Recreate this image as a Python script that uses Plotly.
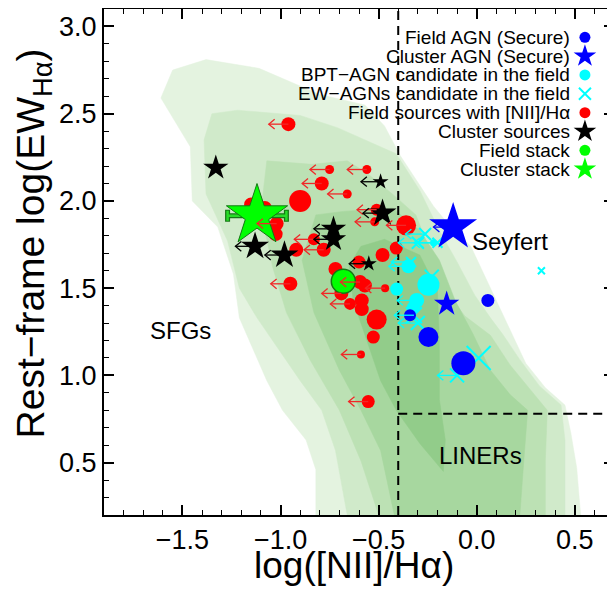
import plotly.graph_objects as go

# ---------------- data ----------------
# Field sources with [NII]/Halpha (red)
red_x = [-0.96, -0.75, -0.56, -0.79, -0.66, -0.90, -1.15, -1.08, -1.02, -1.025,
         -0.92, -0.78, -0.83, -0.51, -0.52, -0.36, -0.41, -0.48, -0.60, -0.72,
         -0.95, -0.595, -0.57, -0.467, -0.69, -0.646, -0.586, -0.586, -0.51, -0.527,
         -0.59, -0.553]
red_y = [2.44, 2.18, 2.18, 2.10, 2.04, 2.00, 1.98, 1.96, 1.87, 1.81,
         1.72, 1.72, 1.78, 1.95, 1.88, 1.86, 1.73, 1.69, 1.65, 1.61,
         1.525, 1.535, 1.515, 1.50, 1.47, 1.41, 1.43, 1.38, 1.32, 1.22,
         1.12, 0.85]
red_size = [14, 9, 9, 14, 9, 22, 14, 14, 14, 14,
            14, 14, 12, 12, 9, 20, 13, 14, 13, 14,
            14, 14, 14, 8, 14, 12, 14, 14, 20, 13,
            8, 13]
red_lim = [1, 1, 1, 1, 1, 0, 0, 0, 1, 0,
           0, 1, 1, 1, 1, 1, 0, 0, 0, 0,
           1, 1, 0, 1, 1, 1, 0, 0, 0, 0,
           1, 1]

# Cluster sources (black stars)
blk_x = [-1.33, -0.49, -1.13, -0.98, -0.73, -0.73, -0.48, -0.55]
blk_y = [2.19, 2.11, 1.74, 1.69, 1.84, 1.78, 1.93, 1.64]
blk_size = [19, 12, 21, 21, 19, 19, 21, 12]
blk_lim = [0, 1, 1, 1, 1, 1, 1, 1]

# Field AGN (secure) - blue circles
bc_x = [0.057, -0.34, -0.246, -0.068]
bc_y = [1.43, 1.345, 1.22, 1.07]
bc_size = [13, 12, 20, 24]

# Cluster AGN (secure) - blue stars
bs_x = [-0.12, -0.153]
bs_y = [1.85, 1.41]
bs_size = [36, 19]
bs_lim = [1, 0]

# BPT-AGN candidates in the field - cyan circles
cc_x = [-0.348, -0.246, -0.408, -0.306, -0.323, -0.22]
cc_y = [1.625, 1.52, 1.495, 1.43, 1.39, 1.76]
cc_size = [14, 22, 13, 15, 13, 7]
cc_lim = [1, 0, 0, 1, 0, 1]

# EW-AGN candidates in the field - cyan crosses
cx_x = [-0.263, -0.30, -0.20, -0.335, -0.229, -0.32, -0.30, 0.01, -0.10, 0.33]
cx_y = [1.81, 1.76, 1.76, 1.65, 1.565, 1.345, 1.30, 1.10, 1.00, 1.60]
cx_size = [12, 12, 10, 10, 14, 16, 14, 24, 14, 7]
cx_lim = [1, 1, 1, 1, 0, 1, 1, 0, 1, 0]

# Stacks
fstack_x, fstack_y = [-0.68], [1.54]
cstack_x, cstack_y, cstack_xerr = [-1.12], [1.915], [0.15]

# Classification dividers
NII_DIV = -0.4
EW_DIV = 0.78
X_RANGE = [-1.9, 0.7]
Y_RANGE = [0.2, 3.1]

# Density contours of the comparison sample (outer -> inner)
cont1_x = [-0.82, -0.82, -0.87, -0.99, -1.07, -1.21, -1.24, -1.32, -1.45, -1.46, -1.61, -1.55,
           -1.38, -1.11, -0.80, -0.57, -0.47, -0.39, -0.22, -0.14, -0.03, 0.02, 0.10, 0.18,
           0.25, 0.35, 0.45, 0.48, 0.51, 0.53]
cont1_y = [0.20, 0.46, 0.63, 0.80, 0.97, 1.33, 1.58, 1.85, 2.00, 2.31, 2.59, 2.75,
           2.81, 2.76, 2.61, 2.55, 2.43, 2.26, 1.97, 1.86, 1.74, 1.62, 1.43, 1.24,
           1.07, 0.93, 0.83, 0.67, 0.47, 0.20]
cont2_x = [-0.66, -0.72, -0.79, -0.90, -1.12, -1.21, -1.27, -1.38, -1.39, -1.35, -1.22, -0.90,
           -0.71, -0.41, -0.29, -0.19, -0.10, -0.01, 0.07, 0.13, 0.22, 0.32, 0.43, 0.45, 0.45]
cont2_y = [0.20, 0.57, 0.80, 0.97, 1.33, 1.50, 1.77, 2.04, 2.35, 2.50, 2.52, 2.49,
           2.42, 2.27, 2.06, 1.83, 1.65, 1.46, 1.33, 1.24, 1.09, 0.94, 0.83, 0.63, 0.20]
cont3_x = [-0.50, -0.59, -0.70, -0.85, -0.97, -1.04, -1.10, -1.07, -0.84, -0.66, -0.56, -0.43,
           -0.31, -0.24, -0.16, -0.06, 0.07, 0.17, 0.27, 0.36, 0.35, 0.35]
cont3_y = [0.20, 0.51, 0.80, 1.09, 1.36, 1.62, 1.94, 2.23, 2.21, 2.23, 2.16, 2.04,
           1.92, 1.72, 1.49, 1.34, 1.23, 1.06, 0.92, 0.80, 0.51, 0.20]
cont4_x = [-0.42, -0.49, -0.59, -0.70, -0.83, -0.89, -0.82, -0.68, -0.43, -0.29, -0.19, -0.11,
           -0.02, 0.07, 0.17, 0.26, 0.24, 0.22]
cont4_y = [0.20, 0.57, 0.80, 1.03, 1.36, 1.66, 1.92, 1.94, 1.96, 1.83, 1.66, 1.43,
           1.24, 1.03, 0.89, 0.80, 0.51, 0.20]
cont5_x = [-0.17, -0.29, -0.41, -0.49, -0.56, -0.63, -0.65, -0.59, -0.47, -0.29, -0.20, -0.19,
           -0.19, -0.16]
cont5_y = [0.45, 0.61, 0.80, 0.97, 1.20, 1.43, 1.63, 1.74, 1.78, 1.69, 1.49, 1.20,
           0.86, 0.63]

# Region labels
region_text = ["SFGs", "Seyfert", "LINERs"]
region_x = [-1.51, 0.17, 0.02]
region_y = [1.26, 1.77, 0.54]

# Axis titles
x_title = "log([NII]/Hα)"
y_title = "Rest−frame log(EW<sub>Hα</sub>)"

# Legend entries
legend_labels = ["Field AGN (Secure)", "Cluster AGN (Secure)", "BPT−AGN candidate in the field",
                 "EW−AGNs candidate in the field", "Field sources with [NII]/Hα",
                 "Cluster sources", "Field stack", "Cluster stack"]

# ---------------- styles ----------------
FONT = "Liberation Sans, Arial, Helvetica, sans-serif"
RED = "rgb(255,0,0)"
BLUE = "rgb(0,0,255)"
CYAN = "rgb(0,255,255)"
GREEN = "rgb(0,255,0)"
DKGREEN = "rgb(20,120,20)"
CONT_COLORS = ["#e4f3e0", "#d0eaca", "#bce1b4", "#a7d79f", "#92cc8a"]
ARROW_LEN = 0.10
HEAD_DX = 0.03
HEAD_DY = 0.028
NOLINE = dict(width=0)

fig = go.Figure()

# contours
for cx, cy, col in zip([cont1_x, cont2_x, cont3_x, cont4_x, cont5_x],
                       [cont1_y, cont2_y, cont3_y, cont4_y, cont5_y], CONT_COLORS):
    fig.add_trace(go.Scatter(x=cx + [cx[0]], y=cy + [cy[0]], mode="lines", fill="toself",
                             fillcolor=col, line=dict(width=0.5, color=col),
                             hoverinfo="skip", showlegend=False))

# dividers
fig.add_trace(go.Scatter(x=[NII_DIV, NII_DIV], y=Y_RANGE, mode="lines",
                         line=dict(color="black", width=2, dash="9px,6px"), showlegend=False))
fig.add_trace(go.Scatter(x=[NII_DIV, X_RANGE[1]], y=[EW_DIV, EW_DIV], mode="lines",
                         line=dict(color="black", width=2, dash="9px,6px"), showlegend=False))

# markers
fig.add_trace(go.Scatter(x=red_x, y=red_y, mode="markers",
                         marker=dict(symbol="circle", size=red_size, color=RED, opacity=1,
                                     line=NOLINE), showlegend=False))
fig.add_trace(go.Scatter(x=blk_x, y=blk_y, mode="markers",
                         marker=dict(symbol="star", size=blk_size, color="black", opacity=1,
                                     line=NOLINE), showlegend=False))
fig.add_trace(go.Scatter(x=cc_x, y=cc_y, mode="markers",
                         marker=dict(symbol="circle", size=cc_size, color=CYAN, opacity=1,
                                     line=NOLINE), showlegend=False))
fig.add_trace(go.Scatter(x=cx_x, y=cx_y, mode="markers",
                         marker=dict(symbol="x-thin", size=cx_size, color=CYAN, opacity=1,
                                     line=dict(color=CYAN, width=2)), showlegend=False))
fig.add_trace(go.Scatter(x=bc_x, y=bc_y, mode="markers",
                         marker=dict(symbol="circle", size=bc_size, color=BLUE, opacity=1,
                                     line=NOLINE), showlegend=False))
fig.add_trace(go.Scatter(x=bs_x, y=bs_y, mode="markers",
                         marker=dict(symbol="star", size=bs_size, color=BLUE, opacity=1,
                                     line=NOLINE), showlegend=False))

# stacks
fig.add_trace(go.Scatter(x=fstack_x, y=fstack_y, mode="markers",
                         marker=dict(symbol="circle", size=24, color=GREEN, opacity=1,
                                     line=dict(color=DKGREEN, width=1.5)), showlegend=False))
fig.add_trace(go.Scatter(x=cstack_x, y=cstack_y, mode="markers",
                         error_x=dict(type="data", array=cstack_xerr, color=DKGREEN,
                                      thickness=5, width=6),
                         marker=dict(size=1, color="rgba(0,0,0,0)", line=NOLINE),
                         showlegend=False))
fig.add_trace(go.Scatter(x=cstack_x, y=cstack_y, mode="markers",
                         error_x=dict(type="data", array=cstack_xerr, color="rgb(40,220,40)",
                                      thickness=2.5, width=5),
                         marker=dict(symbol="star", size=46, color=GREEN, opacity=1,
                                     line=dict(color=DKGREEN, width=1)), showlegend=False))


def arrow_path(xs, ys, lims):
    ax, ay = [], []
    for x, y, lim in zip(xs, ys, lims):
        if not lim:
            continue
        tip = x - ARROW_LEN
        ax += [x, tip, None, tip + HEAD_DX, tip, tip + HEAD_DX, None]
        ay += [y, y, None, y + HEAD_DY, y, y - HEAD_DY, None]
    return ax, ay


for xs, ys, lims, col in [(red_x, red_y, red_lim, "rgb(240,40,40)"),
                          (blk_x, blk_y, blk_lim, "black"),
                          (cc_x, cc_y, cc_lim, CYAN),
                          (cx_x, cx_y, cx_lim, CYAN),
                          (bs_x, bs_y, bs_lim, BLUE)]:
    ax, ay = arrow_path(xs, ys, lims)
    fig.add_trace(go.Scatter(x=ax, y=ay, mode="lines", line=dict(color=col, width=1.3),
                             hoverinfo="skip", showlegend=False))

# legend (text right-aligned, symbol on the right) in overlay paper-like axes
leg_sym = ["circle", "star", "circle", "x-thin", "circle", "star", "circle", "star"]
leg_col = [BLUE, BLUE, CYAN, CYAN, RED, "black", GREEN, GREEN]
leg_size = [11, 17, 11, 12, 11, 17, 11, 17]
LEG_TOP = 0.944
LEG_STEP = 0.0372
leg_y = [LEG_TOP - i * LEG_STEP for i in range(len(legend_labels))]
fig.add_trace(go.Scatter(x=[0.943] * len(leg_y), y=leg_y, mode="markers", xaxis="x2", yaxis="y2",
                         marker=dict(symbol=leg_sym, size=leg_size, color=leg_col, opacity=1,
                                     line=dict(color=leg_col, width=[0, 0, 0, 2, 0, 0, 0, 0])),
                         showlegend=False, hoverinfo="skip"))
# carrier trace for the mirrored (top / right) tick axes
fig.add_trace(go.Scatter(x=[None], y=[None], xaxis="x3", yaxis="y3", mode="markers",
                         showlegend=False, hoverinfo="skip"))

annotations = []
for lab, yy in zip(legend_labels, leg_y):
    annotations.append(dict(x=0.918, y=yy, xref="paper", yref="paper", text=lab, showarrow=False,
                            xanchor="right", yanchor="middle",
                            font=dict(family=FONT, size=19, color="black")))
for t, x, y in zip(region_text, region_x, region_y):
    annotations.append(dict(x=x, y=y, xref="x", yref="y", text=t, showarrow=False,
                            font=dict(family=FONT, size=24, color="black")))
annotations.append(dict(x=0.49, y=-0.099, xref="paper", yref="paper", text=x_title,
                        showarrow=False, xanchor="center", yanchor="middle",
                        font=dict(family=FONT, size=37, color="black")))
annotations.append(dict(x=-0.139, y=0.537, xref="paper", yref="paper", text=y_title,
                        showarrow=False, xanchor="center", yanchor="middle", textangle=-90,
                        font=dict(family=FONT, size=39, color="black")))

tick_common = dict(ticks="inside", ticklen=10, tickwidth=1.5, tickcolor="black",
                   showgrid=False, zeroline=False, tick0=0, dtick=0.5,
                   minor=dict(dtick=0.1, tick0=0, ticks="inside", ticklen=5, tickwidth=1.2,
                              tickcolor="black"))
axis_common = dict(showline=True, linewidth=2, linecolor="black", mirror=True,
                   tickformat=".1f", automargin=False,
                   tickfont=dict(family=FONT, size=27, color="black"), **tick_common)

# the page body adds an 8 px offset, so the figure is 8 px smaller than the window
fig.update_layout(
    template="none",
    width=607, height=582,
    margin=dict(l=96, r=1, t=1, b=75),
    paper_bgcolor="white", plot_bgcolor="white",
    font=dict(family=FONT, color="black"),
    xaxis=dict(range=X_RANGE, **axis_common),
    yaxis=dict(range=Y_RANGE, **axis_common),
    xaxis2=dict(overlaying="x", range=[0, 1], visible=False),
    yaxis2=dict(overlaying="y", range=[0, 1], visible=False),
    xaxis3=dict(overlaying="x", side="top", range=X_RANGE, showticklabels=False,
                showline=False, **tick_common),
    yaxis3=dict(overlaying="y", side="right", range=Y_RANGE, showticklabels=False,
                showline=False, **tick_common),
    annotations=annotations,
)

fig.write_html("out.html")
